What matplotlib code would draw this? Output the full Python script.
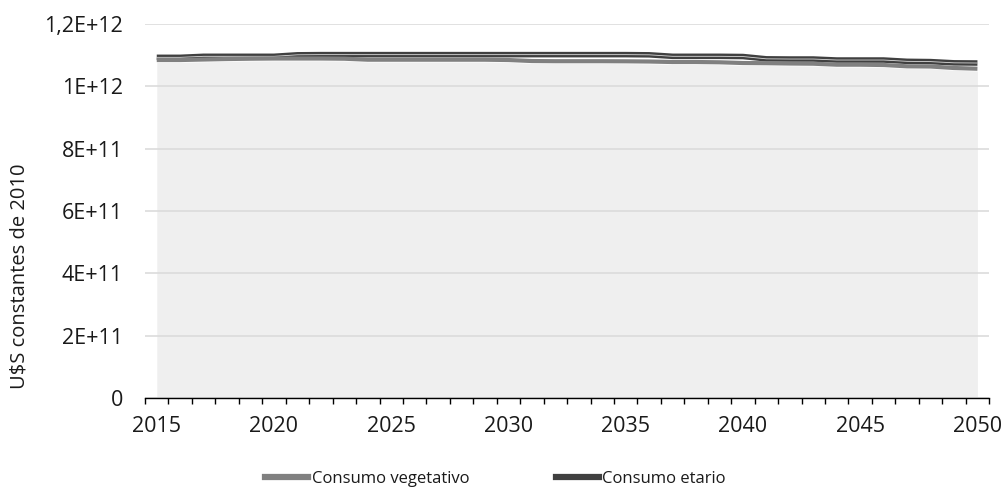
import matplotlib.pyplot as plt
from matplotlib.lines import Line2D
from matplotlib.ticker import FixedLocator, FixedFormatter

plt.rcParams['font.family'] = ['Open Sans', 'DejaVu Sans']

years = list(range(2015, 2051))

# miles de millones de U$S constantes de 2010
consumo_base = [1076.9, 1076.9, 1078.5, 1080.1, 1081.1, 1081.7, 1081.7, 1081.7, 1081.1,
                1077.9, 1077.9, 1077.9, 1077.9, 1077.9, 1077.9, 1076.9, 1073.7, 1073.1,
                1073.1, 1073.1, 1072.8, 1072.1, 1070.5, 1070.5, 1069.6, 1067.3, 1066.7,
                1065.7, 1065.1, 1061.9, 1061.9, 1060.9, 1056.7, 1056.1, 1051.3, 1049.0]
vegetativo = [1084.3, 1084.3, 1085.9, 1087.5, 1088.5, 1089.1, 1089.1, 1089.1, 1088.5,
              1085.3, 1085.3, 1085.3, 1085.3, 1085.3, 1085.3, 1084.3, 1081.1, 1080.5,
              1080.5, 1080.5, 1080.2, 1079.5, 1077.9, 1077.9, 1077.0, 1074.7, 1074.1,
              1073.1, 1072.5, 1069.3, 1069.3, 1068.3, 1064.1, 1063.5, 1058.7, 1056.4]
etario = [1092.9, 1092.9, 1096.2, 1096.2, 1096.2, 1096.2, 1101.0, 1101.6, 1101.6,
          1101.6, 1101.6, 1101.6, 1101.6, 1101.6, 1101.6, 1101.6, 1101.6, 1101.6,
          1101.6, 1101.6, 1101.6, 1101.0, 1096.2, 1096.2, 1096.2, 1095.5, 1088.1,
          1087.5, 1087.5, 1084.3, 1084.3, 1084.3, 1080.1, 1079.2, 1075.3, 1074.7]

yticks = [0, 2e11, 4e11, 6e11, 8e11, 1e12, 1.2e12]
ytick_labels = ['0', '2E+11', '4E+11', '6E+11', '8E+11', '1E+12', '1,2E+12']
xticks = [2015, 2020, 2025, 2030, 2035, 2040, 2045, 2050]

base = [v * 1e9 for v in consumo_base]
veg = [v * 1e9 for v in vegetativo]
eta = [v * 1e9 for v in etario]

fig = plt.figure(figsize=(10.03, 4.9), dpi=100)
ax = fig.add_axes([0.1446, 0.1878, 0.8416, 0.7633])

ax.fill_between(years, 0, base, color='#efefef', lw=0, zorder=1)
ax.plot(years, eta, color='#404040', lw=4.0, solid_capstyle='butt', zorder=3)
ax.plot(years, eta, color='white', lw=0.6, alpha=0.8, solid_capstyle='butt', zorder=3.1)
ax.plot(years, veg, color='#808080', lw=3.0, solid_capstyle='butt', zorder=3.2)

ax.set_xlim(2014.5, 2050.5)
ax.set_ylim(0, 1.2e12)

ax.yaxis.set_major_locator(FixedLocator(yticks))
ax.yaxis.set_major_formatter(FixedFormatter(ytick_labels))
ax.set_xticks(xticks)
ax.set_xticks([y - 0.5 for y in years] + [2050.5], minor=True)

ax.set_axisbelow(False)
ax.grid(axis='y', color='#d9d9d9', lw=1.1, zorder=2)
ax.grid(axis='x', visible=False)

for s in ['top', 'right', 'left']:
    ax.spines[s].set_visible(False)
ax.spines['bottom'].set_color('black')
ax.spines['bottom'].set_linewidth(1.0)
ax.spines['bottom'].set_zorder(4)

ax.tick_params(axis='y', length=0, pad=16, labelsize=15.5, labelcolor='#1a1a1a')
ax.tick_params(axis='x', which='major', length=0, pad=13, labelsize=15.5,
               labelcolor='#1a1a1a')
ax.tick_params(axis='x', which='minor', length=4.3, width=1.0, color='black',
               direction='out')

ax.set_ylabel('U$S constantes de 2010', fontsize=14.5, color='#1a1a1a')
ax.yaxis.set_label_coords(-0.137, 0.326)

handles = [Line2D([], [], color='#808080', lw=4.5),
           Line2D([], [], color='#404040', lw=4.5)]
fig.legend(handles, ['Consumo vegetativo', 'Consumo etario'], loc='center',
           bbox_to_anchor=(0.494, 0.022), ncol=2, frameon=False, fontsize=12,
           handlelength=2.6, handletextpad=0.2, columnspacing=5.2,
           labelcolor='#1a1a1a')

fig.savefig('out.png', dpi=100)
